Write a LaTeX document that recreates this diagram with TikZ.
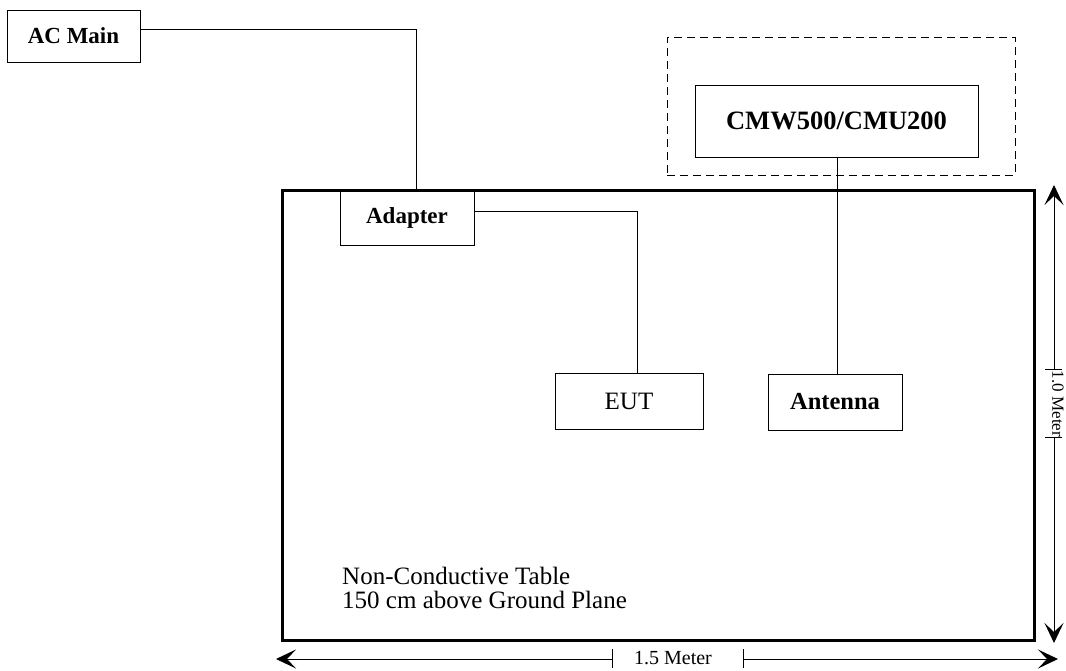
\documentclass[tikz,border=0pt]{standalone}
\usepackage{fontspec}
\setmainfont{Liberation Serif}
\usetikzlibrary{arrows.meta}

\tikzset{
  unit/.style={draw,line width=1pt,inner sep=0pt,font=\fontsize{23}{23}\selectfont\bfseries},
  wire/.style={line width=1pt},
  dimline/.style={line width=1pt,{Stealth[length=20pt,width=19pt,inset=9pt]}-},
  dimtext/.style={inner sep=0pt,font=\fontsize{20}{20}\selectfont},
}

\begin{document}
\begin{tikzpicture}[x=1pt,y=-1pt]
    \useasboundingbox (0,0) rectangle (1066,670);
    % the table and what stands on it
    \node[draw,line width=3pt,minimum width=752pt,minimum height=450pt,inner sep=0pt] (table) at (658,415) {};
    \node[unit,minimum width=134pt,minimum height=55pt] (adapter) at (407,217.5) {Adapter};
    \node[unit,font=\fontsize{25}{25}\selectfont,minimum width=148pt,minimum height=56pt] (eut) at (629,401) {EUT};
    \node[unit,font=\fontsize{24.5}{24.5}\selectfont\bfseries,minimum width=134pt,minimum height=56pt] (antenna) at (835,402) {Antenna};
    \node[anchor=base west,inner sep=0pt,font=\fontsize{25}{25}\selectfont] (tabletxt) at (342,584) {Non-Conductive Table};
    \node[anchor=base west,inner sep=0pt,font=\fontsize{25}{25}\selectfont] (tabletxtb) at (342,608) {150 cm above Ground Plane};
    % off the table
    \node[unit,minimum width=133pt,minimum height=52pt] (acmain) at (73.5,36) {AC Main};
    \node[draw,line width=1pt,dash pattern=on 8pt off 5pt,minimum width=348pt,minimum height=138pt] (tester) at (841,106) {};
    \node[unit,font=\fontsize{26.5}{26.5}\selectfont\bfseries,minimum width=283pt,minimum height=72pt] (cmw) at (836.5,121) {CMW500/CMU200};
    % cables
    \coordinate (acout) at (140,29);
    \coordinate (acin) at (416,190);
    \coordinate (adout) at (474,211);
    \coordinate (eutin) at (637,373);
    \coordinate (cmwout) at (837,157);
    \coordinate (antin) at (837,374);
    \draw[wire] (acout) -| (acin);
    \draw[wire] (adout) -| (eutin);
    \draw[wire] (cmwout) -- (antin);
    % 1.0 Meter
    \coordinate (vtop) at (1054,185);
    \coordinate (vbot) at (1054,643);
    \coordinate (vcuta) at (1054,369);
    \coordinate (vcutb) at (1054,437);
    \draw[dimline] (vtop) -- (vcuta);
    \draw[dimline] (vbot) -- (vcutb);
    \draw[wire] ([xshift=-9pt]vcuta) -- ([xshift=8pt]vcuta);
    \draw[wire] ([xshift=-9pt]vcutb) -- ([xshift=8pt]vcutb);
    \node[dimtext,font=\fontsize{17}{17}\selectfont,rotate=-90] (vlabel) at (1058,404) {1.0 Meter};
    % 1.5 Meter
    \coordinate (hleft) at (276,659);
    \coordinate (hright) at (1058,659);
    \coordinate (hcuta) at (612,659);
    \coordinate (hcutb) at (743,659);
    \draw[dimline] (hleft) -- (hcuta);
    \draw[dimline] (hright) -- (hcutb);
    \draw[wire] ([yshift=-9pt]hcuta) -- ([yshift=10pt]hcuta);
    \draw[wire] ([yshift=-9pt]hcutb) -- ([yshift=10pt]hcutb);
    \node[dimtext] (hlabel) at (673,658) {1.5 Meter};
\end{tikzpicture}
\end{document}
